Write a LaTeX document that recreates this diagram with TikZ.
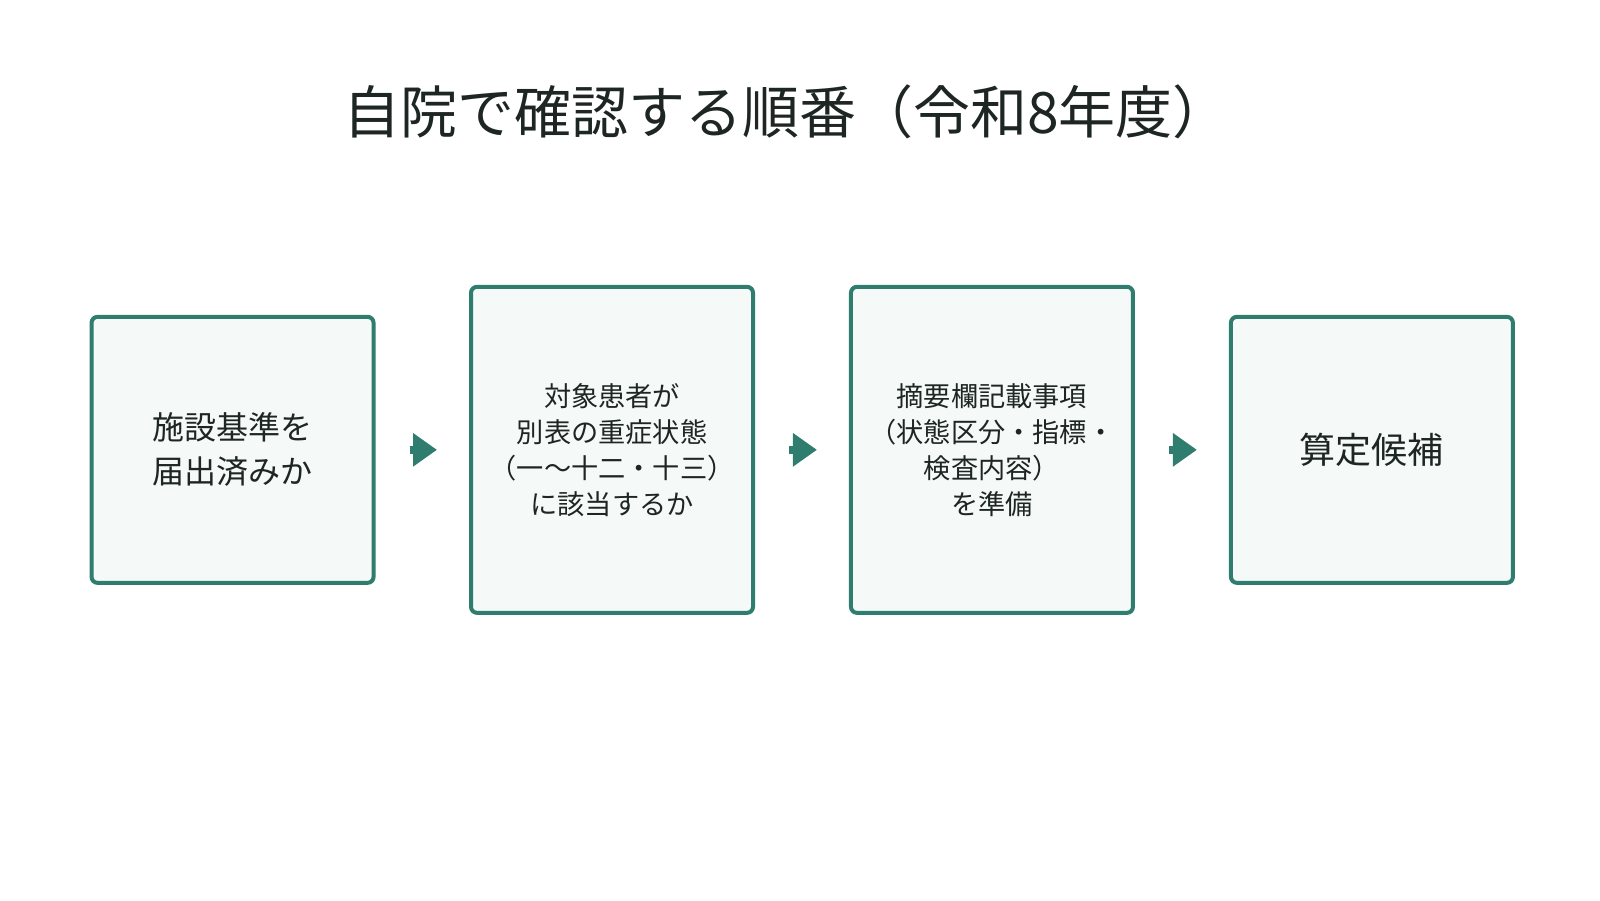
\documentclass[tikz,border=0pt]{standalone}
\usepackage{fontspec}
\setmainfont{Noto Sans CJK JP}
\usetikzlibrary{arrows.meta}
\definecolor{teal1}{HTML}{2E7D6E}
\definecolor{boxfill}{HTML}{F5F9F8}
\definecolor{ink}{HTML}{1E2624}
\tikzset{>=Triangle,
  stage/.style = {draw=teal1,fill=boxfill,line width=2pt,rounded corners=3pt,
    minimum width=141pt,text=ink,font=\fontsize{13.6}{18}\selectfont,align=center},
  flow/.style = {teal1,line width=4pt,
    -{Triangle[length=12pt,width=16pt]},shorten <=17pt,shorten >=16pt}
}
\begin{document}
\begin{tikzpicture}[x=0.51pt,y=-0.51pt]
  \useasboundingbox (0,0) rectangle (1568.6,882.4);
  \node[text=ink,font=\fontsize{28.5}{32}\selectfont] (title) at (771,110) {自院で確認する順番（令和8年度）};

  \node[stage,minimum height=133pt,font=\fontsize{16}{22}\selectfont] (b1) at (228,441) {施設基準を\\届出済みか};
  \node[stage,minimum height=163pt] (b2) at (600,441) {対象患者が\\別表の重症状態\\（一〜十二・十三）\\に該当するか};
  \node[stage,minimum height=163pt] (b3) at (972.5,441) {摘要欄記載事項\\（状態区分・指標・\\検査内容）\\を準備};
  \node[stage,minimum height=133pt,font=\fontsize{18}{22}\selectfont] (b4) at (1345,441) {算定候補};

  \draw[flow] (b1.east) -- (b2.west);
  \draw[flow] (b2.east) -- (b3.west);
  \draw[flow] (b3.east) -- (b4.west);
\end{tikzpicture}
\end{document}
